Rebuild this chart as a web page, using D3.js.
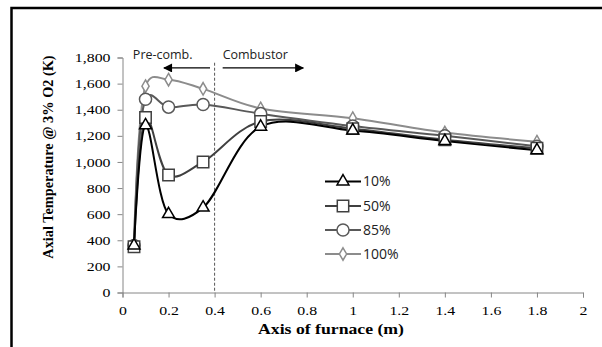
<!DOCTYPE html>
<html>
<head>
<meta charset="utf-8">
<script src="https://cdn.jsdelivr.net/npm/d3@7"></script>
<style>
  body { margin: 0; background: #fff; }
  svg { display: block; }
</style>
</head>
<body>
<div id="chart"></div>
<script>
// data
const xPos = [0.05, 0.1, 0.2, 0.35, 0.6, 1.0, 1.4, 1.8];
const seriesNames = ["10%", "50%", "85%", "100%"];
const t10 = [360, 1280, 600, 650, 1270, 1240, 1160, 1090];
const t50 = [350, 1340, 900, 1000, 1310, 1255, 1170, 1105];
const t85 = [360, 1480, 1420, 1440, 1370, 1275, 1200, 1120];
const t100 = [360, 1580, 1630, 1560, 1410, 1335, 1225, 1155];
const yTicks = [0, 200, 400, 600, 800, 1000, 1200, 1400, 1600, 1800];
const xTicks = [0, 0.2, 0.4, 0.6, 0.8, 1, 1.2, 1.4, 1.6, 1.8, 2];

const W = 602, H = 347;
const colors = ["#000000", "#404040", "#595959", "#8c8c8c"];
const symbols = [d3.symbolTriangle, d3.symbolSquare, d3.symbolCircle, d3.symbolDiamond];
const symSize = [62, 130, 115, 45];
const stretch = 1.22; // the source picture is a bit wider than tall

const svg = d3.select("#chart").append("svg")
    .attr("width", W).attr("height", H);

// outer frame (cut by the window on right and bottom)
svg.append("rect")
    .attr("x", 11.5).attr("y", 8)
    .attr("width", 700).attr("height", 400)
    .attr("fill", "none").attr("stroke", "#000").attr("stroke-width", 2.5);

const x = d3.scaleLinear().domain([0, 2]).range([122.5, 583]);
const y = d3.scaleLinear().domain([0, 1800]).range([292.5, 57.5]);

// axes
const xAxis = svg.append("g")
    .attr("transform", `translate(0,${y(0)})`)
    .call(d3.axisBottom(x).tickValues(xTicks).tickSize(5).tickPadding(5)
        .tickFormat(d => d3.format("")(+d.toFixed(1))));
const yAxis = svg.append("g")
    .attr("transform", `translate(${x(0)},0)`)
    .call(d3.axisLeft(y).tickValues(yTicks).tickSize(5).tickPadding(6)
        .tickFormat(d3.format(",")));
[xAxis, yAxis].forEach(a => {
    a.selectAll("path, line").attr("stroke", "#868686");
    a.selectAll("text").attr("font-family", "Liberation Serif")
        .attr("font-size", "13px").attr("fill", "#000")
        .attr("transform", `scale(${stretch},1)`);
});
xAxis.selectAll("text").attr("dy", "1em");
yAxis.selectAll("text").attr("x", -12 / stretch);

// axis titles
svg.append("text")
    .attr("transform", `translate(331,334) scale(1.18,1)`)
    .attr("text-anchor", "middle")
    .attr("font-family", "Liberation Serif").attr("font-weight", "bold")
    .attr("font-size", "15px")
    .text("Axis of furnace (m)");
svg.append("text")
    .attr("transform", `translate(53,157) rotate(-90)`)
    .attr("text-anchor", "middle")
    .attr("font-family", "Liberation Serif").attr("font-weight", "bold")
    .attr("font-size", "14.3px")
    .text("Axial Temperature @ 3% O2 (K)");

// divider and zone arrows
svg.append("line")
    .attr("x1", x(0.4)).attr("x2", x(0.4))
    .attr("y1", y(1760)).attr("y2", y(0))
    .attr("stroke", "#555").attr("stroke-width", 1).attr("stroke-dasharray", "3,2");

const defs = svg.append("defs");
defs.append("marker").attr("id", "ah")
    .attr("viewBox", "0 0 10 10").attr("refX", 9).attr("refY", 5)
    .attr("markerWidth", 12).attr("markerHeight", 9).attr("orient", "auto-start-reverse")
    .attr("markerUnits", "userSpaceOnUse")
    .append("path").attr("d", "M0,0L10,5L0,10Z").attr("fill", "#000");

svg.append("line")
    .attr("x1", x(0.38)).attr("x2", x(0.18))
    .attr("y1", y(1720)).attr("y2", y(1720))
    .attr("stroke", "#000").attr("stroke-width", 1.2).attr("marker-end", "url(#ah)");
svg.append("line")
    .attr("x1", x(0.435)).attr("x2", x(0.785))
    .attr("y1", y(1720)).attr("y2", y(1720))
    .attr("stroke", "#000").attr("stroke-width", 1.2).attr("marker-end", "url(#ah)");

svg.append("text")
    .attr("x", x(0.045)).attr("y", y(1790))
    .attr("font-family", "Open Sans").attr("font-size", "12.5px").attr("fill", "#222")
    .text("Pre-comb.");
svg.append("text")
    .attr("x", x(0.435)).attr("y", y(1790))
    .attr("font-family", "Open Sans").attr("font-size", "12.5px").attr("fill", "#222")
    .text("Combustor");

// series
const allSeries = [t10, t50, t85, t100];
const line = d3.line()
    .x((d, i) => x(xPos[i]))
    .y(d => y(d))
    .curve(d3.curveCatmullRom.alpha(0.2));

// draw light ones first so black sits on top
for (let s = allSeries.length - 1; s >= 0; s--) {
    svg.append("path")
        .datum(allSeries[s])
        .attr("d", line)
        .attr("fill", "none")
        .attr("stroke", colors[s])
        .attr("stroke-width", 2);
}
for (let s = allSeries.length - 1; s >= 0; s--) {
    svg.append("g").selectAll("path")
        .data(allSeries[s])
        .enter().append("path")
        .attr("transform", (d, i) => `translate(${x(xPos[i])},${y(d)})`)
        .attr("d", d3.symbol().type(symbols[s]).size(symSize[s]))
        .attr("fill", "#fff")
        .attr("stroke", colors[s])
        .attr("stroke-width", 1.5);
}

// legend
const legY = [181.5, 206, 230, 254];
const leg = svg.append("g");
seriesNames.forEach((name, s) => {
    const g = leg.append("g").attr("transform", `translate(0,${legY[s]})`);
    g.append("line").attr("x1", 325).attr("x2", 361).attr("y1", 0).attr("y2", 0)
        .attr("stroke", colors[s]).attr("stroke-width", 2);
    g.append("path").attr("transform", "translate(343,0)")
        .attr("d", d3.symbol().type(symbols[s]).size(symSize[s]))
        .attr("fill", "#fff").attr("stroke", colors[s]).attr("stroke-width", 1.5);
    g.append("text").attr("x", 363).attr("y", 0).attr("dy", "0.35em")
        .attr("font-family", "Open Sans").attr("font-size", "14px").attr("fill", "#222")
        .text(name);
});
</script>
</body>
</html>
